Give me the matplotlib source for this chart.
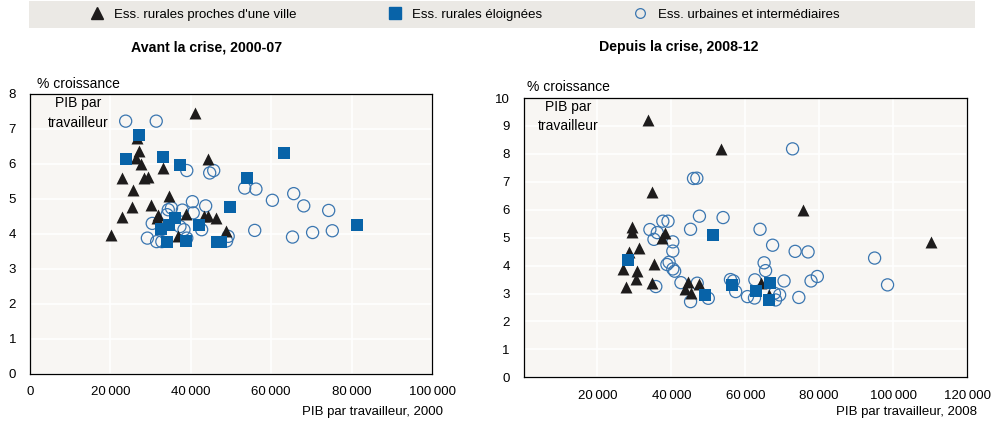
import matplotlib
matplotlib.use("Agg")
import matplotlib.pyplot as plt
import matplotlib.lines as mlines
import matplotlib.font_manager as fm
from matplotlib.patches import Rectangle
from matplotlib.ticker import FuncFormatter

# narrow Arial-like face if present, otherwise a slightly smaller Liberation Sans
_names = {f.name for f in fm.fontManager.ttflist}
if "Liberation Sans Narrow" in _names:
    plt.rcParams["font.family"] = ["Liberation Sans Narrow", "DejaVu Sans"]
    FS = 10.5
else:
    plt.rcParams["font.family"] = ["Liberation Sans", "DejaVu Sans"]
    FS = 9.5

# --- data ---

# 2000-07
tri_x_00 = [41000, 26500, 27200, 26400, 27500, 33000, 44400, 22800, 28400, 29400,
            25500, 34700, 30000, 25300, 23000, 20100, 31900, 31500, 38800, 43300,
            44300, 46200, 48700, 36900]
tri_y_00 = [7.46, 6.74, 6.36, 6.17, 6.00, 5.87, 6.14, 5.60, 5.60, 5.62,
            5.26, 5.07, 4.83, 4.77, 4.48, 3.97, 4.55, 4.45, 4.58, 4.52,
            4.50, 4.46, 4.07, 3.93]

sq_x_00 = [27200, 23900, 33000, 37400, 63200, 53900, 49700, 81400, 36100, 34600,
           32600, 42100, 34000, 38800, 46400, 47600]
sq_y_00 = [6.82, 6.14, 6.20, 5.98, 6.31, 5.59, 4.78, 4.25, 4.46, 4.25,
           4.15, 4.25, 3.78, 3.81, 3.76, 3.76]

circ_x_00 = [23800, 31400, 39000, 44700, 45700, 53400, 56200, 60300, 65600, 68100,
             74300, 55900, 65300, 70300, 75200, 40400, 43700, 37900, 34400, 35200,
             40600, 30400, 29200, 31500, 32800, 37300, 38300, 42700, 39000, 49300,
             48900, 34100]
circ_y_00 = [7.22, 7.22, 5.81, 5.74, 5.81, 5.31, 5.28, 4.96, 5.15, 4.80,
             4.67, 4.10, 3.91, 4.04, 4.09, 4.92, 4.80, 4.68, 4.69, 4.74,
             4.60, 4.30, 3.88, 3.78, 3.78, 4.21, 4.12, 4.12, 3.88, 3.93,
             3.80, 4.55]

# 2008-12
tri_x_08 = [33600, 53500, 34900, 75600, 110300, 29400, 29400, 38400, 37600, 28500,
            31200, 35400, 26900, 30700, 30400, 27800, 34900, 44500, 43600, 45200,
            47600, 64200, 66400]
tri_y_08 = [9.20, 8.17, 6.62, 6.00, 4.86, 5.40, 5.19, 5.18, 4.98, 4.50,
            4.63, 4.06, 3.89, 3.79, 3.53, 3.25, 3.39, 3.43, 3.16, 3.01,
            3.33, 3.39, 2.94]

sq_x_08 = [28300, 51300, 49100, 56400, 62900, 66800, 66400]
sq_y_08 = [4.21, 5.09, 2.96, 3.32, 3.09, 3.39, 2.77]

circ_x_08 = [72800, 46000, 46900, 34200, 36200, 35300, 37700, 39100, 47600, 54000,
             45200, 64000, 67400, 73500, 77000, 95000, 98500, 40400, 40400, 39400,
             38800, 40400, 40900, 42600, 47000, 35800, 45200, 50000, 56000, 57400,
             60600, 62600, 62500, 65100, 65500, 70500, 69300, 68200, 74500, 77800,
             79500, 67900, 56800]
circ_y_08 = [8.18, 7.12, 7.13, 5.29, 5.18, 4.94, 5.59, 5.59, 5.77, 5.72,
             5.30, 5.30, 4.73, 4.51, 4.49, 4.27, 3.31, 4.85, 4.52, 4.12,
             4.04, 3.88, 3.80, 3.39, 3.37, 3.25, 2.71, 2.83, 3.50, 3.07,
             2.89, 3.49, 2.84, 4.10, 3.82, 3.45, 2.95, 2.77, 2.86, 3.45,
             3.61, 3.01, 3.45]

LABELS = ["Ess. rurales proches d'une ville", "Ess. rurales éloignées",
          "Ess. urbaines et intermédiaires"]
TITLES = ["Avant la crise, 2000-07", "Depuis la crise, 2008-12"]
XLABELS = ["PIB par travailleur, 2000", "PIB par travailleur, 2008"]
YLABEL = "% croissance\nPIB par\ntravailleur"

# --- style ---

TRI_C = "#1e1c1c"
SQ_C = "#0863a8"
CIRC_C = "#3a76b0"
BG = "#f8f6f3"
BAND = "#ebe9e5"


def thousands(v, pos):
    return f"{int(v):,}".replace(",", "\u2009") if v else "0"


def draw_panel(ax, tx, ty, sx, sy, cx, cy):
    ax.set_facecolor(BG)
    ax.scatter(cx, cy, s=76, facecolors="none", edgecolors=CIRC_C,
               linewidths=0.9, zorder=3)
    ax.scatter(tx, ty, s=74, marker="^", color=TRI_C, linewidths=0, zorder=4)
    ax.scatter(sx, sy, s=72, marker="s", color=SQ_C, linewidths=0, zorder=5)
    ax.grid(True, color="white", linewidth=1.2)
    ax.set_axisbelow(True)
    for sp in ax.spines.values():
        sp.set_color("black")
        sp.set_linewidth(0.9)
    ax.tick_params(length=0, labelsize=FS)
    ax.tick_params(axis="y", pad=10)
    ax.tick_params(axis="x", pad=9)
    ax.xaxis.set_major_formatter(FuncFormatter(thousands))


fig = plt.figure(figsize=(10, 4.33), dpi=100)

# left panel
ax1 = fig.add_axes([0.030, 0.1363, 0.402, 0.647])
draw_panel(ax1, tri_x_00, tri_y_00, sq_x_00, sq_y_00, circ_x_00, circ_y_00)
ax1.set_xlim(0, 100000)
ax1.set_ylim(0, 8)
ax1.set_xticks(range(0, 100001, 20000))
ax1.set_yticks(range(0, 9))

# right panel
ax2 = fig.add_axes([0.5235, 0.1286, 0.4435, 0.645])
draw_panel(ax2, tri_x_08, tri_y_08, sq_x_08, sq_y_08, circ_x_08, circ_y_08)
ax2.set_xlim(0, 120000)
ax2.set_ylim(0, 10)
ax2.set_xticks(range(20000, 120001, 20000))
ax2.set_yticks(range(0, 11))

# y label block, titles, x labels
fig.text(0.078, 1 - 77 / 433, YLABEL, ha="center", va="top", fontsize=FS + 0.5,
         linespacing=1.5)
fig.text(0.568, 1 - 80 / 433, YLABEL, ha="center", va="top", fontsize=FS + 0.5,
         linespacing=1.5)
fig.text(0.207, 1 - 47 / 433, TITLES[0], ha="center", va="center",
         fontsize=10.2, fontweight="bold")
fig.text(0.679, 1 - 47 / 433, TITLES[1], ha="center", va="center",
         fontsize=10.2, fontweight="bold")
fig.text(0.443, 1 - 412 / 433, XLABELS[0], ha="right", va="center", fontsize=FS)
fig.text(0.977, 1 - 412 / 433, XLABELS[1], ha="right", va="center", fontsize=FS)

# legend band
fig.patches.append(Rectangle((0.029, 1 - 28 / 433), 0.946, 27 / 433,
                             transform=fig.transFigure, facecolor=BAND,
                             edgecolor="none", zorder=0))
handles = [
    mlines.Line2D([], [], linestyle="none", marker="^", color=TRI_C,
                  markersize=9, label=LABELS[0]),
    mlines.Line2D([], [], linestyle="none", marker="s", color=SQ_C,
                  markersize=9, label=LABELS[1]),
    mlines.Line2D([], [], linestyle="none", marker="o", markerfacecolor="none",
                  markeredgecolor=CIRC_C, markeredgewidth=0.9,
                  markersize=7, label=LABELS[2]),
]
fig.legend(handles=handles, loc="center left", ncol=3, frameon=False,
           bbox_to_anchor=(0.090, 1 - 14.5 / 433), fontsize=FS,
           handlelength=1.0, handletextpad=0.85, columnspacing=6.9,
           borderaxespad=0, borderpad=0)

fig.savefig("out.png", dpi=100)
